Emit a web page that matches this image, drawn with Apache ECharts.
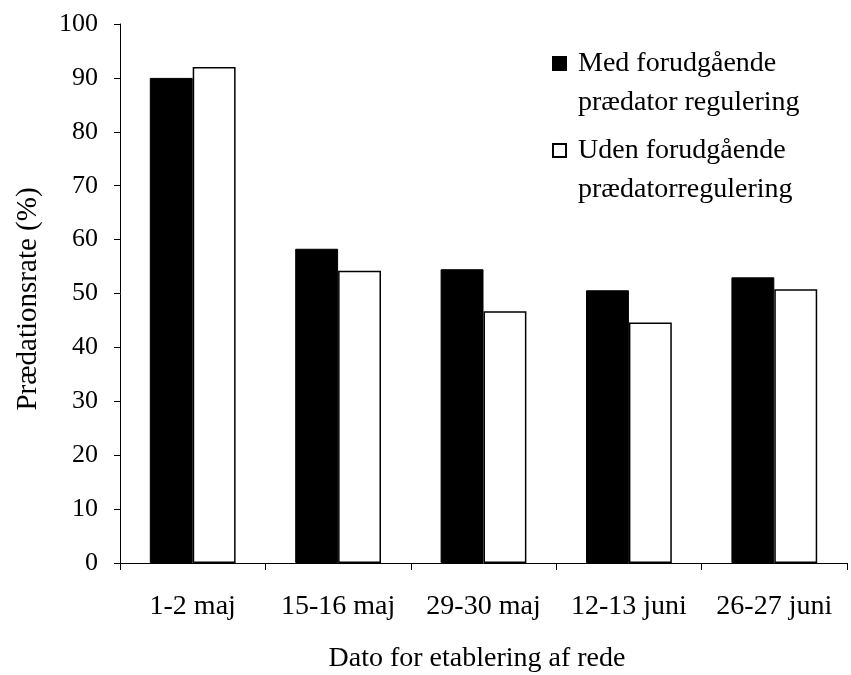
<!DOCTYPE html>
<html>
<head>
<meta charset="utf-8">
<script src="https://cdn.jsdelivr.net/npm/echarts@6/dist/echarts.min.js"></script>
<style>
  html, body { margin: 0; padding: 0; background: #fff; }
  #chart { width: 851px; height: 675px; }
</style>
</head>
<body>
<div id="chart"></div>
<script>
// Nest establishment dates
const categories = ['1-2 maj', '15-16 maj', '29-30 maj', '12-13 juni', '26-27 juni'];
// Predation rate (%) with prior predator control
const medRegulering = [90, 58.3, 54.5, 50.6, 53.0];
// Predation rate (%) without prior predator control
const udenRegulering = [92, 54.2, 46.7, 44.6, 50.8];
const yTicks = [0, 10, 20, 30, 40, 50, 60, 70, 80, 90, 100];

const seriesMed = 'Med forudgående\nprædator regulering';
const seriesUden = 'Uden forudgående\nprædatorregulering';

const FONT = 'Liberation Serif';
const axisLine = { show: true, lineStyle: { color: '#000', width: 1 } };

// Leading blank line keeps the square marker level with the first text line
const legendBase = {
  left: 552, orient: 'vertical', padding: 0,
  itemWidth: 13, itemHeight: 13, icon: 'rect', selectedMode: false,
  formatter: name => '\n' + name,
  textStyle: { fontFamily: FONT, fontSize: 28, color: '#000', lineHeight: 39, padding: [0, 0, 0, 7] }
};

const chart = echarts.init(document.getElementById('chart'), null, { renderer: 'canvas' });
chart.setOption({
  backgroundColor: '#fff',
  animation: false,
  grid: { left: 120, right: 4, top: 24, bottom: 112, containLabel: false, outerBoundsMode: 'none' },
  legend: [
    Object.assign({}, legendBase, { data: [seriesMed], top: 5 }),
    Object.assign({}, legendBase, { data: [seriesUden], top: 92 })
  ],
  xAxis: {
    type: 'category',
    data: categories,
    name: 'Dato for etablering af rede',
    nameLocation: 'middle',
    nameGap: 82,
    nameTextStyle: { fontFamily: FONT, fontSize: 28, color: '#000', padding: [0, 13, 0, 0] },
    axisLine: axisLine,
    axisTick: { show: true, length: 7, inside: false, alignWithLabel: false, lineStyle: { color: '#000' } },
    axisLabel: { fontFamily: FONT, fontSize: 28, color: '#000', margin: 30, interval: 0 },
    splitLine: { show: false }
  },
  yAxis: {
    type: 'value',
    min: yTicks[0],
    max: yTicks[yTicks.length - 1],
    interval: yTicks[1] - yTicks[0],
    name: 'Prædationsrate (%)',
    nameLocation: 'middle',
    nameGap: 77,
    nameTextStyle: { fontFamily: FONT, fontSize: 29, color: '#000', padding: [0, 11, 0, 0] },
    axisLine: axisLine,
    axisTick: { show: true, length: 6, inside: false, lineStyle: { color: '#000' } },
    axisLabel: { fontFamily: FONT, fontSize: 26, color: '#000', margin: 22 },
    splitLine: { show: false }
  },
  series: [
    {
      name: seriesMed, type: 'bar', data: medRegulering,
      barGap: '0%', barCategoryGap: '41%',
      itemStyle: { color: '#000', borderColor: '#000', borderWidth: 1 }
    },
    {
      name: seriesUden, type: 'bar', data: udenRegulering,
      barGap: '0%', barCategoryGap: '41%',
      itemStyle: { color: '#fff', borderColor: '#000', borderWidth: 1.5 }
    }
  ]
});
</script>
</body>
</html>
